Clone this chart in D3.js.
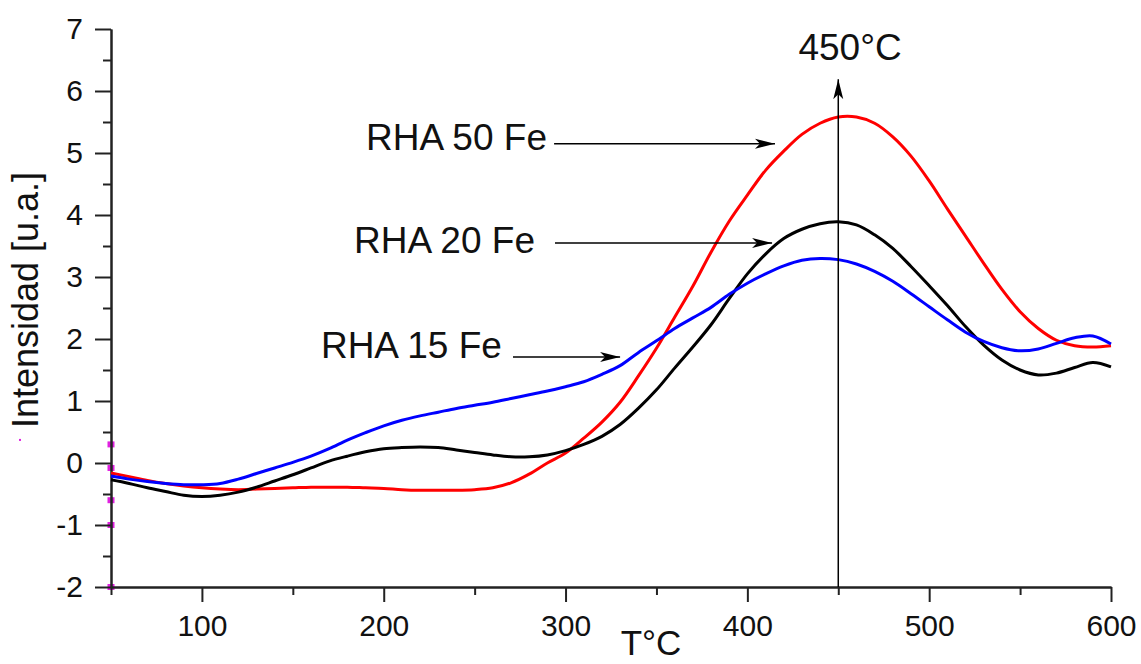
<!DOCTYPE html>
<html>
<head>
<meta charset="utf-8">
<script src="https://cdn.jsdelivr.net/npm/d3@7"></script>
<style>
  body { margin: 0; background: #fff; }
  svg { display: block; font-family: "Liberation Sans", Arial, sans-serif; }
</style>
</head>
<body>
<div id="chart"></div>
<script>
// Temperature steps (°C)
const temps = [50, 60, 70, 80, 90, 100, 110, 120, 130, 140, 150, 160, 170, 180, 190, 200,
  210, 220, 230, 240, 250, 260, 270, 280, 290, 300, 310, 320, 330, 340, 350, 360, 370, 380,
  390, 400, 410, 420, 430, 440, 450, 460, 470, 480, 490, 500, 510, 520, 530, 540, 550, 560,
  570, 580, 590, 600];

// RHA 50 Fe (red)
const rha50 = [-0.16, -0.22, -0.28, -0.33, -0.37, -0.40, -0.42, -0.43, -0.42, -0.41, -0.40,
  -0.39, -0.39, -0.39, -0.40, -0.41, -0.43, -0.44, -0.44, -0.44, -0.43, -0.40, -0.32, -0.18,
  0.00, 0.16, 0.40, 0.66, 0.98, 1.40, 1.85, 2.35, 2.85, 3.40, 3.90, 4.32, 4.72, 5.03, 5.30,
  5.48, 5.58, 5.58, 5.48, 5.26, 4.95, 4.55, 4.10, 3.66, 3.22, 2.80, 2.44, 2.17, 1.98, 1.89,
  1.87, 1.89];

// RHA 20 Fe (black)
const rha20 = [-0.27, -0.33, -0.40, -0.46, -0.52, -0.54, -0.52, -0.47, -0.39, -0.29, -0.19,
  -0.08, 0.03, 0.11, 0.18, 0.23, 0.25, 0.26, 0.25, 0.21, 0.17, 0.13, 0.10, 0.10, 0.13, 0.20,
  0.30, 0.43, 0.62, 0.88, 1.18, 1.53, 1.87, 2.23, 2.65, 3.05, 3.37, 3.62, 3.77, 3.86, 3.89,
  3.84, 3.68, 3.46, 3.17, 2.86, 2.54, 2.20, 1.90, 1.66, 1.50, 1.42, 1.45, 1.54, 1.62, 1.55];

// RHA 15 Fe (blue)
const rha15 = [-0.21, -0.26, -0.30, -0.33, -0.35, -0.35, -0.33, -0.26, -0.17, -0.08, 0.01,
  0.11, 0.23, 0.37, 0.49, 0.60, 0.69, 0.76, 0.82, 0.88, 0.93, 0.98, 1.04, 1.10, 1.16, 1.23,
  1.31, 1.43, 1.57, 1.78, 1.97, 2.17, 2.34, 2.51, 2.72, 2.90, 3.05, 3.18, 3.27, 3.30, 3.28,
  3.21, 3.09, 2.93, 2.73, 2.52, 2.31, 2.11, 1.96, 1.86, 1.81, 1.84, 1.93, 2.02, 2.05, 1.92];

const seriesColors = ["#ff0000", "#000000", "#0000ff"];

const xMajor = [100, 200, 300, 400, 500, 600];
const xMinor = [50, 150, 250, 350, 450, 550];
const yMajor = [-2, -1, 0, 1, 2, 3, 4, 5, 6, 7];
const yMinor = [-1.5, -0.5, 0.5, 1.5, 2.5, 3.5, 4.5, 5.5, 6.5];

// annotation labels with their arrows (data units)
const labelNames = ["RHA 50 Fe", "RHA 20 Fe", "RHA 15 Fe"];
const labelX = [289.8, 283.2, 265];
const labelY = [5.05, 3.39, 1.69];
const arrowX0 = [293.7, 294.2, 271.1];
const arrowX1 = [415.2, 413.6, 330];
const arrowY = [5.15, 3.55, 1.71];

// peak marker
const peakT = 450;
const peakTop = 6.19;
const peakText = "450°C";
const peakTextPos = [456.5, 6.5];

// stray magenta markers on the axis
const strayX = [50, 50, 50, 50, 50, 0];
const strayY = [0.3, -0.08, -0.6, -1, -2, 0.34];

const W = 1141, H = 664;
const margin = {top: 29, right: 30, bottom: 77, left: 111};

const svg = d3.select("#chart").append("svg")
    .attr("width", W)
    .attr("height", H);

const x = d3.scaleLinear().domain([50, 600]).range([margin.left, W - margin.right]);
const y = d3.scaleLinear().domain([-2, 7]).range([H - margin.bottom, margin.top]);

const axisColor = "#222";

// stray markers go under the axis line
svg.append("g")
    .selectAll("rect")
    .data(strayX.map((d, i) => [d, strayY[i]]))
    .join("rect")
    .attr("x", d => d[0] === 0 ? 19 : x(d[0]) - 3.5)
    .attr("y", d => y(d[1]) - 3)
    .attr("width", d => d[0] === 0 ? 2 : 7)
    .attr("height", d => d[0] === 0 ? 2 : 6)
    .attr("fill", "#e020e0");

// Axes
const xAxisMajor = d3.axisBottom(x).tickValues(xMajor).tickSize(15).tickSizeOuter(0)
    .tickPadding(13).tickFormat(d => String(d));
const xAxisMinor = d3.axisBottom(x).tickValues(xMinor).tickSize(8).tickSizeOuter(0).tickFormat("");
const yAxisMajor = d3.axisLeft(y).tickValues(yMajor).tickSize(16).tickSizeOuter(0)
    .tickPadding(12).tickFormat(d => String(d));
const yAxisMinor = d3.axisLeft(y).tickValues(yMinor).tickSize(8).tickSizeOuter(0).tickFormat("");

function styleAxis(g) {
    g.selectAll("path, line").attr("stroke", axisColor).attr("stroke-width", 2);
    g.selectAll("text").attr("fill", "#111").style("font-size", "30px");
}

svg.append("g").attr("transform", `translate(0,${y(-2)})`).call(xAxisMinor).call(styleAxis);
svg.append("g").attr("transform", `translate(0,${y(-2)})`).call(xAxisMajor).call(styleAxis);
svg.append("g").attr("transform", `translate(${x(50)},0)`).call(yAxisMinor).call(styleAxis);
svg.append("g").attr("transform", `translate(${x(50)},0)`).call(yAxisMajor).call(styleAxis);

// Curves
const line = d3.line()
    .x((d, i) => x(temps[i]))
    .y(d => y(d))
    .curve(d3.curveCatmullRom.alpha(0.5));

[rha50, rha20, rha15].forEach(function (vals, i) {
    svg.append("path")
        .datum(vals)
        .attr("fill", "none")
        .attr("stroke", seriesColors[i])
        .attr("stroke-width", 3)
        .attr("d", line);
});

// Arrowhead marker
const defs = svg.append("defs");
defs.append("marker")
    .attr("id", "head")
    .attr("viewBox", "-20 -6 22 12")
    .attr("refX", 0)
    .attr("refY", 0)
    .attr("markerUnits", "userSpaceOnUse")
    .attr("markerWidth", 22)
    .attr("markerHeight", 12)
    .attr("orient", "auto")
    .append("path")
    .attr("d", "M0,0 L-20,-5 L-15,0 L-20,5 Z")
    .attr("fill", "#000");

// peak vertical line
svg.append("line")
    .attr("x1", x(peakT)).attr("x2", x(peakT))
    .attr("y1", y(-2)).attr("y2", y(peakTop))
    .attr("stroke", "#000")
    .attr("stroke-width", 1.5)
    .attr("marker-end", "url(#head)");

svg.append("text")
    .attr("x", x(peakTextPos[0]))
    .attr("y", y(peakTextPos[1]))
    .attr("text-anchor", "middle")
    .style("font-size", "37px")
    .attr("fill", "#111")
    .text(peakText);

// labels and arrows
labelNames.forEach(function (name, i) {
    svg.append("line")
        .attr("x1", x(arrowX0[i])).attr("x2", x(arrowX1[i]))
        .attr("y1", y(arrowY[i])).attr("y2", y(arrowY[i]))
        .attr("stroke", "#000")
        .attr("stroke-width", 1.5)
        .attr("marker-end", "url(#head)");

    svg.append("text")
        .attr("x", x(labelX[i]))
        .attr("y", y(labelY[i]))
        .attr("text-anchor", "end")
        .style("font-size", "37px")
        .attr("fill", "#111")
        .text(name);
});

// Axis titles
svg.append("text")
    .attr("x", 651)
    .attr("y", 655)
    .attr("text-anchor", "middle")
    .style("font-size", "35px")
    .attr("fill", "#111")
    .text("T°C");

svg.append("text")
    .attr("transform", "translate(38,300) rotate(-90)")
    .attr("text-anchor", "middle")
    .style("font-size", "36px")
    .attr("fill", "#111")
    .text("Intensidad [u.a.]");
</script>
</body>
</html>
